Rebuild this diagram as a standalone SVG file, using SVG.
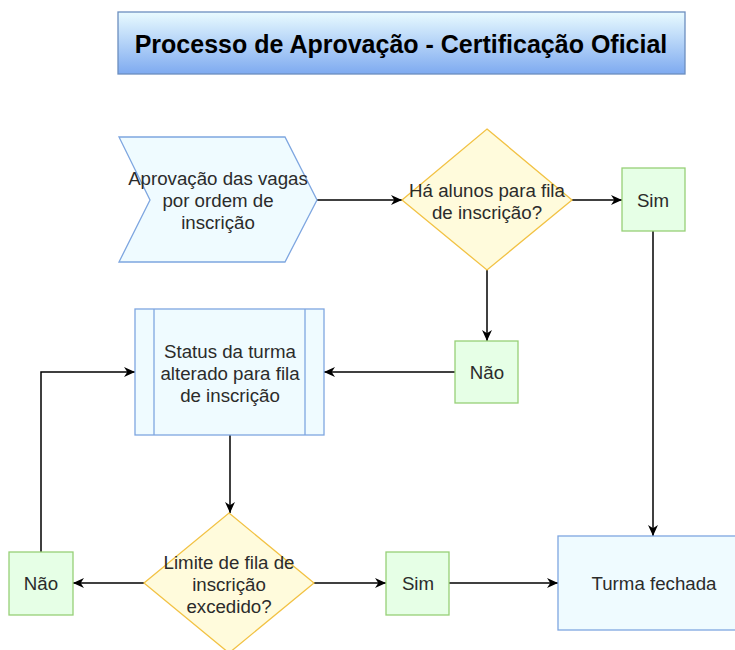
<svg xmlns="http://www.w3.org/2000/svg" width="735" height="650" viewBox="0 0 735 650">
<defs>
<linearGradient id="tg" x1="0" y1="0" x2="0" y2="1">
<stop offset="0" stop-color="#e9fbff"/>
<stop offset="1" stop-color="#7eaaf0"/>
</linearGradient>
<marker id="arr" viewBox="0 0 10 10" refX="10" refY="5" markerWidth="11" markerHeight="11" markerUnits="userSpaceOnUse" orient="auto">
<path d="M0,0.5 L10,5 L0,9.5 L3,5 Z" fill="#000"/>
</marker>
<style>
text{font-family:"Liberation Sans",Arial,Helvetica,sans-serif;font-size:18.7px;fill:#2b2b2b;text-anchor:middle;dominant-baseline:central}
.title{font-size:25px;font-weight:bold;fill:#000}
.blue{fill:#effbff;stroke:#7ea6e0;stroke-width:1.3}
.green{fill:#e6ffe6;stroke:#97d077;stroke-width:1.3}
.yellow{fill:#fffbdc;stroke:#f2c244;stroke-width:1.3}
.edge{fill:none;stroke:#000;stroke-width:1.5}
.arrow{marker-end:url(#arr)}
</style>
</defs>
<rect width="735" height="650" fill="#fff"/>
<g id="title">
<rect x="118" y="12" width="567" height="62" fill="url(#tg)" stroke="#6c8ebf" stroke-width="1.3"/>
<text class="title" x="401" y="44">Processo de Aprovação - Certificação Oficial</text>
</g>
<g id="edges">
<path class="edge arrow" d="M317,200 L402,200"/>
<path class="edge arrow" d="M572,200 L622,200"/>
<path class="edge arrow" d="M487,270 L487,341"/>
<path class="edge arrow" d="M455,372 L324,372"/>
<path class="edge arrow" d="M653,231 L653,536"/>
<path class="edge arrow" d="M230,435 L230,513"/>
<path class="edge arrow" d="M144,583 L73,583"/>
<path class="edge arrow" d="M41,552 L41,372 L135,372"/>
<path class="edge arrow" d="M314,583 L386,583"/>
<path class="edge arrow" d="M449,583 L558,583"/>
</g>
<g id="aprovacao">
<path class="blue" d="M119,137 L285,137 L317,200 L285,262 L119,262 L150,200 Z"/>
<text x="218" y="178">Aprovação das vagas</text>
<text x="218" y="200">por ordem de</text>
<text x="218" y="222">inscrição</text>
</g>
<g id="decisao1">
<path class="yellow" d="M487,129 L572,200 L487,270 L402,200 Z"/>
<text x="487" y="190">Há alunos para fila</text>
<text x="487" y="212">de inscrição?</text>
</g>
<g id="sim1">
<rect class="green" x="622" y="168" width="63" height="63"/>
<text x="653" y="200">Sim</text>
</g>
<g id="nao1">
<rect class="green" x="455" y="341" width="63" height="62"/>
<text x="487" y="372">Não</text>
</g>
<g id="status">
<rect class="blue" x="135" y="309" width="189" height="126"/>
<line class="blue" x1="154" y1="309" x2="154" y2="435"/>
<line class="blue" x1="305" y1="309" x2="305" y2="435"/>
<text x="230" y="351">Status da turma</text>
<text x="230" y="373">alterado para fila</text>
<text x="230" y="395">de inscrição</text>
</g>
<g id="decisao2">
<path class="yellow" d="M229,513 L314,583 L229,653 L144,583 Z"/>
<text x="229" y="562">Limite de fila de</text>
<text x="229" y="584">inscrição</text>
<text x="229" y="606">excedido?</text>
</g>
<g id="nao2">
<rect class="green" x="9" y="552" width="64" height="63"/>
<text x="41" y="583">Não</text>
</g>
<g id="sim2">
<rect class="green" x="386" y="552" width="63" height="63"/>
<text x="418" y="583">Sim</text>
</g>
<g id="fechada">
<rect class="blue" x="558" y="536" width="192" height="94"/>
<text x="654" y="583">Turma fechada</text>
</g>
</svg>
